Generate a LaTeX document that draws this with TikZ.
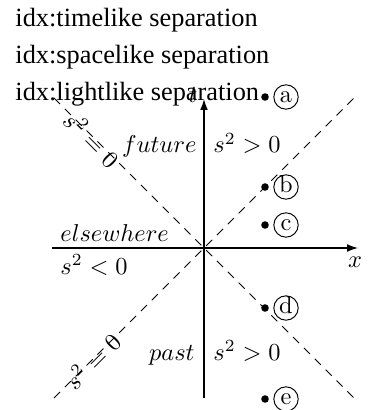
\documentclass[tikz,border=0pt]{standalone}
\usepackage{fontspec}
\newfontfamily\timesfont{Liberation Serif}
\usetikzlibrary{arrows.meta}
\begin{document}
\begin{tikzpicture}[x=0.41pt,y=-0.41pt,
  axis/.style={line width=0.55pt,-{Latex[length=4.5pt,width=3.2pt]}},
  cone/.style={dash pattern=on 3.5pt off 2.8pt,line width=0.4pt},
  idxtext/.style={anchor=base west,inner sep=0,font=\timesfont\fontsize{10.8}{13}\selectfont},
  dotpt/.style={circle,fill,inner sep=0,minimum size=3.1pt},
  tag/.style={circle,draw,line width=0.4pt,inner sep=0,minimum size=10pt,text height=4.3pt,text depth=0pt},
  lbl/.style={inner sep=0}]
\useasboundingbox (0,0) rectangle (371,410);
% index texts
\node[idxtext] (i1) at (15,27) {idx:timelike separation};
\node[idxtext] (i2) at (15,64) {idx:spacelike separation};
\node[idxtext] (i3) at (15,101) {idx:lightlike separation};
% axes
\coordinate (O) at (204,248);
\coordinate (xl) at (52,248);
\coordinate (xr) at (358,248);
\coordinate (yb) at (204,398);
\coordinate (yt) at (204,99);
\draw[axis] (xl) -- (xr);
\draw[axis] (yb) -- (yt);
\node[lbl] (xlab) at (355,262) {$x$};
\node[lbl] (tlab) at (193,95) {$t$};
% light cone
\coordinate (c1) at (54,98);
\coordinate (c2) at (354,398);
\coordinate (c3) at (54,398);
\coordinate (c4) at (354,98);
\draw[cone] (c1) -- (c2);
\draw[cone] (c3) -- (c4);
\node[lbl,rotate=-45] (s0a) at (92,139) {$s^2=0$};
\node[lbl,rotate=45] (s0b) at (92,361) {$s^2=0$};
% region labels
\node[lbl,anchor=base east] (fut) at (197,153) {$future$};
\node[lbl,anchor=base west] (futs) at (213,153) {$s^2>0$};
\node[lbl,anchor=base west] (els) at (60,242) {$elsewhere$};
\node[lbl,anchor=base west] (elss) at (60,274) {$s^2<0$};
\node[lbl,anchor=base east] (pst) at (195,360) {$past$};
\node[lbl,anchor=base west] (psts) at (213,360) {$s^2>0$};
% events
\node[dotpt] (pa) at (265,97) {};
\node[tag] (ta) at (286,97) {a};
\node[dotpt] (pb) at (265,187) {};
\node[tag] (tb) at (286,187) {b};
\node[dotpt] (pc) at (265,225) {};
\node[tag] (tc) at (286,225) {c};
\node[dotpt] (pd) at (265,308) {};
\node[tag] (td) at (286,308) {d};
\node[dotpt] (pe) at (265,399) {};
\node[tag] (te) at (286,399) {e};
\end{tikzpicture}
\end{document}
